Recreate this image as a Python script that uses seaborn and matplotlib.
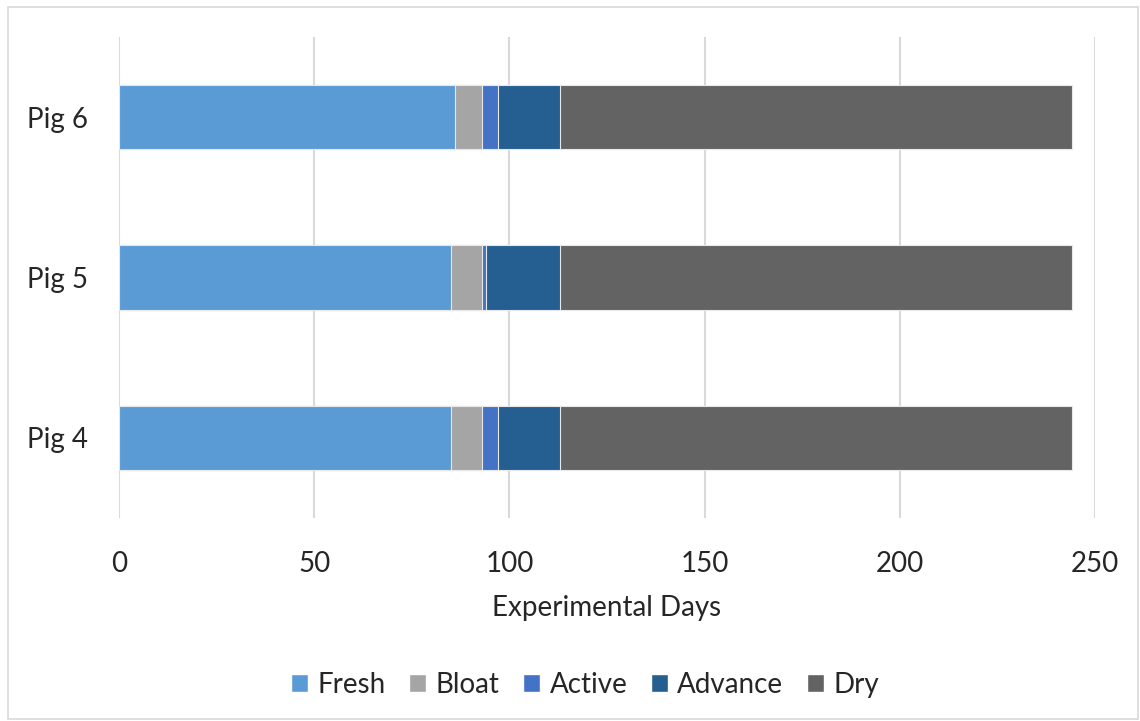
import numpy as np
import pandas as pd
import matplotlib
matplotlib.use("Agg")
import matplotlib.pyplot as plt
import seaborn as sns
from matplotlib.patches import Patch, Rectangle

pigs = ["Pig 6", "Pig 5", "Pig 4"]
stages = ["Fresh", "Bloat", "Active", "Advance", "Dry"]
fresh = [86, 85, 85]
bloat = [7, 8, 8]
active = [4, 1, 4]
advance = [16, 19, 16]
dry = [131, 131, 131]
colors = ["#5B9BD5", "#A5A5A5", "#4472C4", "#255E91", "#636363"]
xticks = [0, 50, 100, 150, 200, 250]

sns.set_theme(style="white")
plt.rcParams['font.family'] = ['Lato', 'DejaVu Sans']

fig = plt.figure(figsize=(11.4, 7.21), dpi=100)
ax = fig.add_axes([119/1140, 1 - 518/721, (1095-119)/1140, (518-37)/721])

vals = np.array([fresh, bloat, active, advance, dry])
cum = np.cumsum(vals, axis=0)
df = pd.DataFrame({"pig": pigs})
for i in range(len(stages) - 1, -1, -1):
    df["end"] = cum[i]
    sns.barplot(data=df, x="end", y="pig", order=pigs, orient="h", color=colors[i],
                width=0.4, saturation=1, edgecolor="#E8E8E8", linewidth=0.8, ax=ax)

FS = 20
ax.set_xlim(0, 250)
ax.set_ylim(2.5, -0.5)
ax.set_xticks(xticks)
ax.set_xticklabels([str(t) for t in xticks], fontsize=FS)
ax.tick_params(axis="y", labelsize=FS, length=0, pad=22)
ax.tick_params(axis="x", length=0, pad=24)
ax.set_ylabel("")
ax.set_xlabel("Experimental Days", fontsize=FS, labelpad=13)
ax.grid(axis="x", color="#D9D9D9", linewidth=1.5)
ax.set_axisbelow(True)
for s in ax.spines.values():
    s.set_visible(False)

handles = [Patch(facecolor=c, label=s) for c, s in zip(colors, stages)]
fig.legend(handles=handles, loc="center", bbox_to_anchor=(585/1140, 1 - 685/721),
           ncol=5, frameon=False, fontsize=FS, handlelength=0.6, handleheight=0.6,
           handletextpad=0.35, columnspacing=0.85)

fig.patches.append(Rectangle((8/1140, 1 - 719/721), 1130/1140, 712/721,
                             transform=fig.transFigure, fill=False,
                             edgecolor="#D9D9D9", linewidth=1.2))

fig.savefig("out.png", dpi=100)
